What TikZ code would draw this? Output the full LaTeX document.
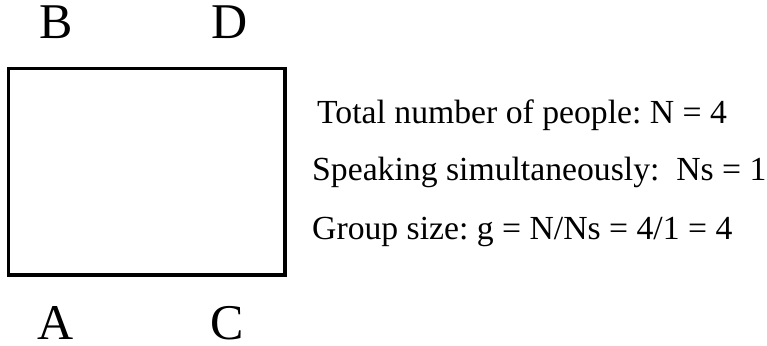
\documentclass[tikz,border=0pt]{standalone}
\usepackage{fontspec}
\setmainfont{Liberation Serif}
\begin{document}
\frenchspacing
\begin{tikzpicture}[x=1pt,y=-1pt,
  corner/.style={anchor=base west,inner sep=0pt,font=\fontsize{50}{60}\selectfont},
  info/.style={anchor=base west,inner sep=0pt,font=\fontsize{33.7}{40}\selectfont},
  sq/.style={draw=black,line width=3.5pt}]
\useasboundingbox (0,0) rectangle (767,345);
\draw[sq] (8.5,68.5) rectangle (285,275);
\node[corner] (B) at (39,38) {B};
\node[corner] (D) at (211,38) {D};
\node[corner] (A) at (37,339.5) {A};
\node[corner] (C) at (210.5,339.5) {C};
\node[info] (l1) at (317,123.5) {Total number of people: N = 4};
\node[info] (l2) at (312,180.5) {Speaking simultaneously:\ \ Ns = 1};
\node[info] (l3) at (312,239) {Group size: g = N/Ns = 4/1 = 4};
\end{tikzpicture}
\end{document}
